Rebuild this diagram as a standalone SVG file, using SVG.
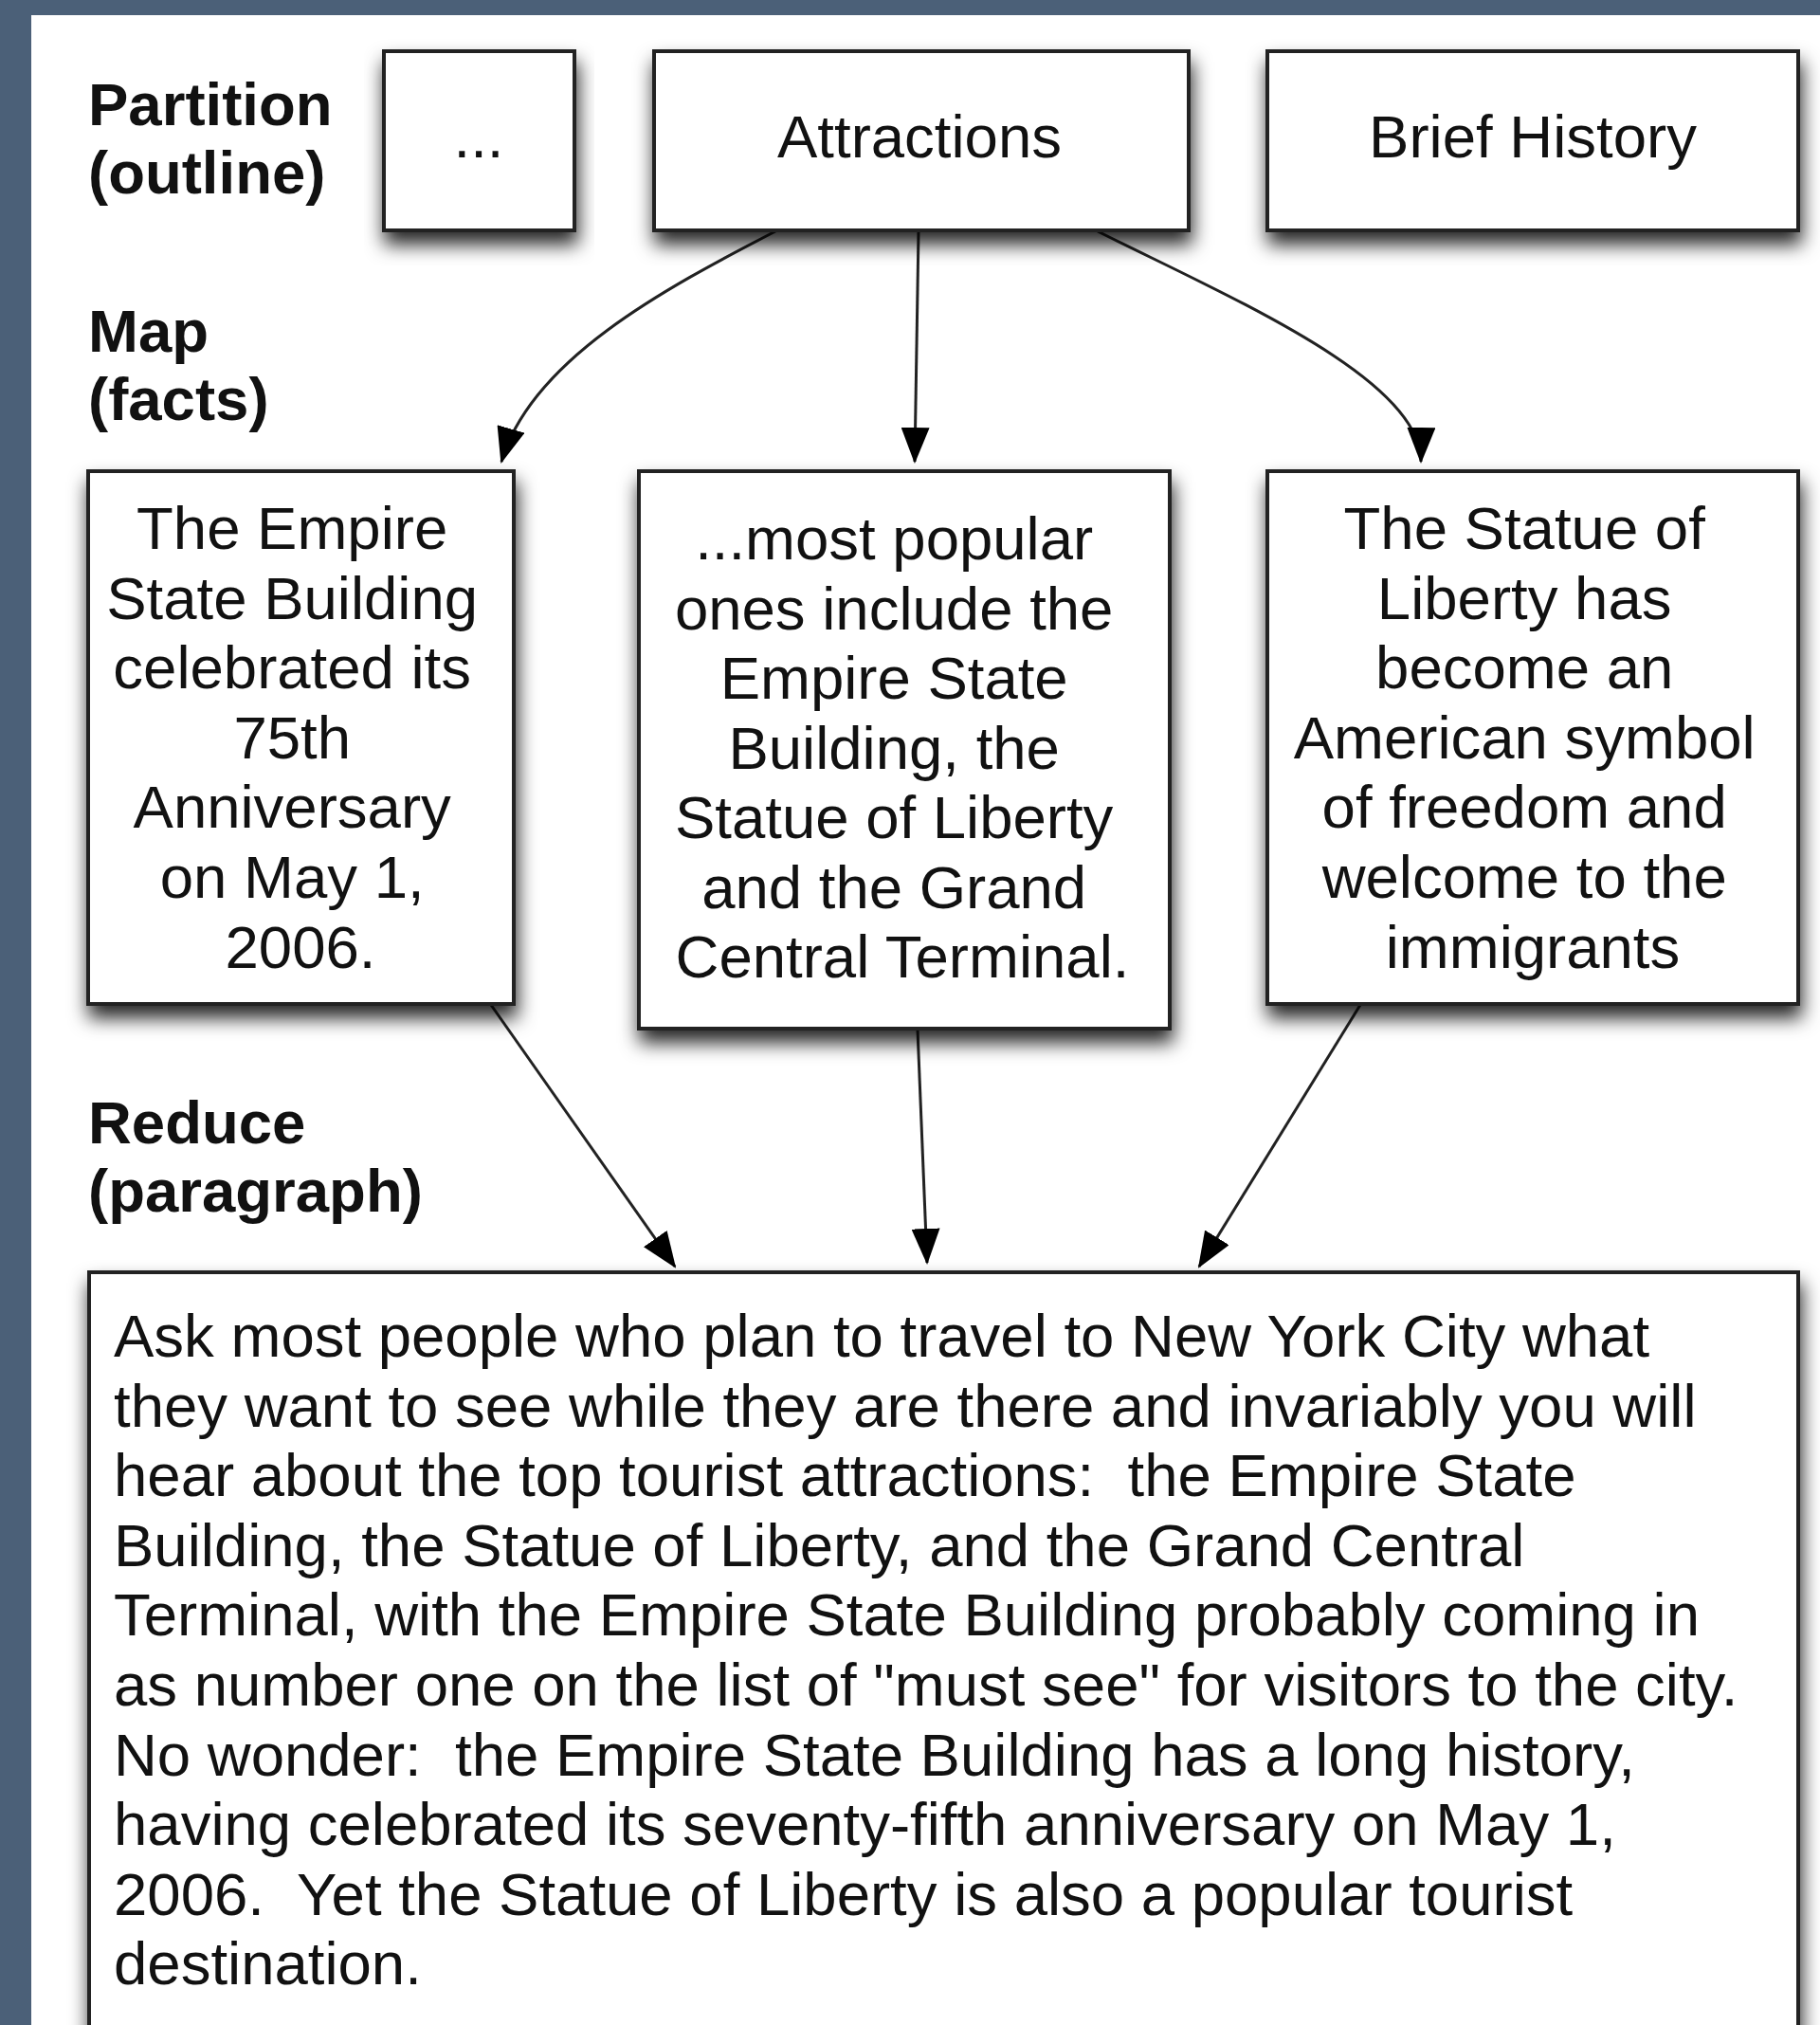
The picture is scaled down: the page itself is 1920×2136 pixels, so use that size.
<svg xmlns="http://www.w3.org/2000/svg" width="1920" height="2136" viewBox="0 0 1920 2136">
<style>
.bg{fill:#4b6078}
.box{fill:#fff;stroke:#222;stroke-width:4;filter:url(#sh)}
.t{font-family:"Liberation Sans",Arial,sans-serif;font-size:63.5px;fill:#111}
.c{text-anchor:middle}
.lab{font-family:"Liberation Sans",Arial,sans-serif;font-size:63.5px;font-weight:bold;fill:#111}
.edge{fill:none;stroke:#222;stroke-width:3;marker-end:url(#ah)}
</style>
<defs>
<filter id="sh" x="-10%" y="-10%" width="120%" height="130%">
<feDropShadow dx="2" dy="13" stdDeviation="10" flood-color="#000" flood-opacity="0.85"/>
</filter>
<marker id="ah" markerUnits="userSpaceOnUse" markerWidth="38" markerHeight="30" refX="36" refY="15" orient="auto">
<path d="M0,0 L38,15 L0,30 z" fill="#000"/>
</marker>
</defs>
<rect class="bg" x="0" y="0" width="1920" height="2136"/>
<rect x="33" y="16" width="1887" height="2120" fill="#fff"/>

<g id="labels">
<text class="lab" x="93" y="132">Partition</text>
<text class="lab" x="93" y="204">(outline)</text>
<text class="lab" x="93" y="371">Map</text>
<text class="lab" x="93" y="443">(facts)</text>
<text class="lab" x="93" y="1206">Reduce</text>
<text class="lab" x="93" y="1278">(paragraph)</text>
</g>

<g id="connectors">
<path class="edge" d="M818,244 C700,305 560,380 529,487"/>
<path class="edge" d="M969,244 L965,487"/>
<path class="edge" d="M1158,244 C1300,315 1500,400 1499,487"/>
<path class="edge" d="M518,1060 L712,1336"/>
<path class="edge" d="M968,1086 L978,1332"/>
<path class="edge" d="M1435,1060 L1265,1336"/>
</g>

<g id="node-dots">
<rect class="box" x="405" y="54" width="201" height="189"/>
<text class="t c" x="505" y="166">...</text>
</g>
<g id="node-attractions">
<rect class="box" x="690" y="54" width="564" height="189"/>
<text class="t c" x="970" y="166">Attractions</text>
</g>
<g id="node-history">
<rect class="box" x="1337" y="54" width="560" height="189"/>
<text class="t c" x="1617" y="166">Brief History</text>
</g>

<g id="node-fact1">
<rect class="box" x="93" y="497" width="449" height="562"/>
<text class="t c">
<tspan x="317" y="579">The Empire</tspan>
<tspan x="317" y="653">State Building</tspan>
<tspan x="317" y="726">celebrated its</tspan>
<tspan x="317" y="800">75th</tspan>
<tspan x="317" y="873">Anniversary</tspan>
<tspan x="317" y="947">on May 1,</tspan>
<tspan x="317" y="1021">2006.</tspan>
</text>
</g>
<g id="node-fact2">
<rect class="box" x="674" y="497" width="560" height="588"/>
<text class="t c">
<tspan x="952" y="590">...most popular</tspan>
<tspan x="952" y="664">ones include the</tspan>
<tspan x="952" y="737">Empire State</tspan>
<tspan x="952" y="811">Building, the</tspan>
<tspan x="952" y="884">Statue of Liberty</tspan>
<tspan x="952" y="958">and the Grand</tspan>
<tspan x="952" y="1031">Central Terminal.</tspan>
</text>
</g>
<g id="node-fact3">
<rect class="box" x="1337" y="497" width="560" height="562"/>
<text class="t c">
<tspan x="1617" y="579">The Statue of</tspan>
<tspan x="1617" y="653">Liberty has</tspan>
<tspan x="1617" y="726">become an</tspan>
<tspan x="1617" y="800">American symbol</tspan>
<tspan x="1617" y="873">of freedom and</tspan>
<tspan x="1617" y="947">welcome to the</tspan>
<tspan x="1617" y="1021">immigrants</tspan>
</text>
</g>

<g id="node-paragraph">
<rect class="box" x="94" y="1342" width="1803" height="900"/>
<text class="t" xml:space="preserve">
<tspan x="120" y="1431">Ask most people who plan to travel to New York City what</tspan>
<tspan x="120" y="1505">they want to see while they are there and invariably you will</tspan>
<tspan x="120" y="1578">hear about the top tourist attractions:  the Empire State</tspan>
<tspan x="120" y="1652">Building, the Statue of Liberty, and the Grand Central</tspan>
<tspan x="120" y="1725">Terminal, with the Empire State Building probably coming in</tspan>
<tspan x="120" y="1799">as number one on the list of "must see" for visitors to the city.</tspan>
<tspan x="120" y="1873">No wonder:  the Empire State Building has a long history,</tspan>
<tspan x="120" y="1946">having celebrated its seventy-fifth anniversary on May 1,</tspan>
<tspan x="120" y="2020">2006.  Yet the Statue of Liberty is also a popular tourist</tspan>
<tspan x="120" y="2093">destination.</tspan>
</text>
</g>
</svg>
